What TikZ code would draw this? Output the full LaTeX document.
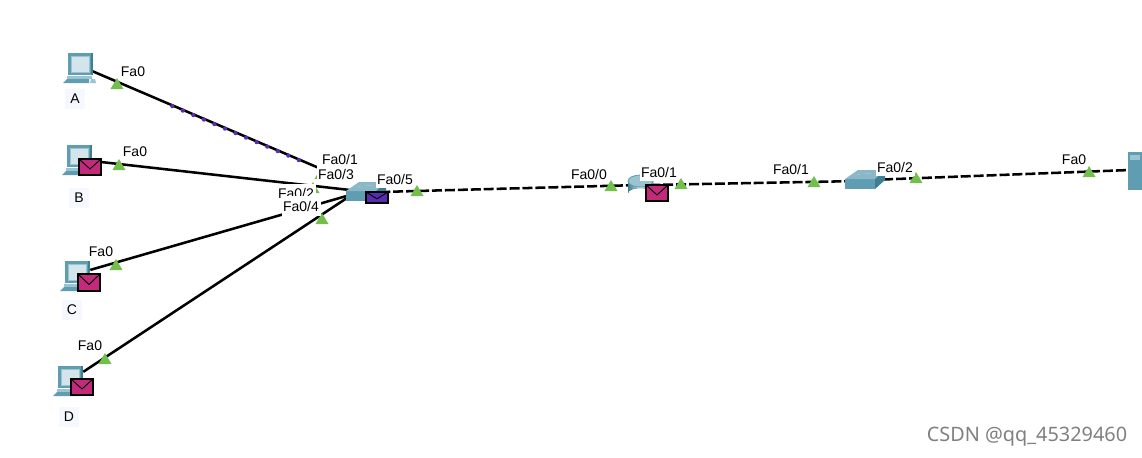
\documentclass[tikz,border=0pt]{standalone}
\usepackage{fontspec}
\setmainfont{Liberation Sans}
\newfontfamily\wmfont{Noto Sans}
\definecolor{teal1}{HTML}{5F9DB3}
\definecolor{teal2}{HTML}{3F7F96}
\definecolor{teal3}{HTML}{9CC3D0}
\definecolor{screen}{HTML}{D3E4EA}
\definecolor{mailm}{HTML}{C42A7C}
\definecolor{mailp}{HTML}{5A2DB0}
\definecolor{tri}{HTML}{72BF4B}
\definecolor{lblbg}{HTML}{F5F8FE}
\tikzset{
  x=0.75pt,y=-0.75pt,
  link/.style={draw=black,line width=1.9pt},
  dashlink/.style={draw=black,line width=1.9pt,dash pattern=on 7.5pt off 2.2pt},
  port/.style={font=\fontsize{10.5pt}{12pt}\selectfont,fill=white,inner xsep=1.2pt,inner ysep=0pt,minimum height=13pt,text=black},
  devlabel/.style={font=\fontsize{10.5pt}{12pt}\selectfont,fill=lblbg,inner xsep=4pt,inner ysep=4pt,text=black},
  anchorpt/.style={inner sep=0pt,minimum size=0pt},
  watermark/.style={font=\wmfont\fontsize{14.9pt}{16pt}\selectfont,text=black!50},
  pcicon/.pic={
    \fill[teal1] (-11,-14) rectangle (14,8);
    \fill[teal2] (12,-14) -- (14,-14) -- (14,8) -- (12,8) -- cycle;
    \fill[screen,draw=teal3,line width=.5pt] (-8,-11) rectangle (10,5);
    \fill[teal3] (-12,9) -- (13,9) -- (13,12) -- (-12,12) -- cycle;
    \fill[teal1] (-16,16) -- (-12,12) -- (10,12) -- (10,16) -- cycle;
    \fill[teal3] (12,12) -- (16,12) -- (17,16) -- (11,16) -- cycle;
  },
  swicon/.pic={
    \fill[teal1] (0,0) rectangle (30,10);
    \fill[teal3!70!teal1] (0,0) -- (13,-9) -- (40,-9) -- (30,0) -- cycle;
    \fill[teal2] (30,0) -- (40,-9) -- (40,1) -- (30,10) -- cycle;
    \fill[teal3] (12,-5) rectangle (15,-4);
    \fill[teal3] (20,-6) rectangle (26,-5);
  }
}
\newcommand{\mailicon}[4]{% x y col width-height
  \fill[#3,draw=black,line width=.9pt] (#1,#2) rectangle ++(22,#4);
  \draw[black,line width=.7pt] (#1,#2) -- ++(11,{#4*0.62}) -- ++(11,{-#4*0.62});
}
\newcommand{\portmark}[2]{\fill[tri] (#1-6.5,#2+5) -- (#1,#2-6) -- (#1+6.5,#2+5) -- cycle;}
\begin{document}
\begin{tikzpicture}
\useasboundingbox (0,0) rectangle (1142,457);
\fill[white] (0,0) rectangle (1142,457);
% connector ends
\node[anchorpt] (pa) at (92,71) {};
\node[anchorpt] (pb) at (101,162) {};
\node[anchorpt] (pc) at (90,270) {};
\node[anchorpt] (pd) at (83,372) {};
\node[anchorpt] (swa) at (347,180) {};
\node[anchorpt] (swb2) at (350,190) {};
\node[anchorpt] (swc2) at (350,195) {};
\node[anchorpt] (swd) at (350,196) {};
\node[anchorpt] (swr) at (380,192) {};
\node[anchorpt] (ra) at (640,185) {};
\node[anchorpt] (rb) at (650,185) {};
\node[anchorpt] (swb) at (860,181) {};
\node[anchorpt] (swc) at (870,180) {};
\node[anchorpt] (srv) at (1130,170) {};
\node[anchorpt] (dota) at (172,106) {};
\node[anchorpt] (dotb) at (308,164) {};
% connectors
\draw[link] (pa) -- (swa);
\draw[link] (pb) -- (swb2);
\draw[link] (pc) -- (swc2);
\draw[link] (pd) -- (swd);
\draw[dashlink] (swr) -- (ra);
\draw[dashlink] (rb) -- (swb);
\draw[dashlink] (swc) -- (srv);
\draw[draw=mailp,line width=3.2pt,line cap=round,dash pattern=on 0pt off 8.6pt] (dota) -- (dotb);
% port markers
\portmark{117}{84}\portmark{119}{165}\portmark{116}{265}\portmark{105}{359}
\portmark{322}{219}\portmark{321}{174}\portmark{313}{188}
\portmark{417}{191}\portmark{611}{186}\portmark{681}{184}
\portmark{814}{182}\portmark{916}{178}\portmark{1089}{172}
% devices
\pic at (79,67) {pcicon};
\pic at (78,159) {pcicon};
\pic at (76,275) {pcicon};
\pic at (69,380) {pcicon};
\pic at (346,191) {swicon};
\pic at (845,179) {swicon};
% router
\fill[left color=teal2,right color=teal2,middle color=screen] (628,181) -- (653,181) -- (653,193) arc (0:-180:12.5 and 5) -- cycle;
\fill[teal3,draw=teal1,line width=.6pt] (640.5,181) ellipse (12.5 and 6);
% server
\fill[teal1] (1128,152) rectangle (1142,190);
\fill[teal3] (1130,155) rectangle (1140,160);
% envelopes
\mailicon{79}{159}{mailm}{16}
\mailicon{78}{274}{mailm}{17}
\mailicon{71}{379}{mailm}{16}
\mailicon{366}{192}{mailp}{11}
\mailicon{646}{185}{mailm}{16}
% port labels
\node[port] (l1) at (133,72) {Fa0};
\node[port] (l2) at (135,152) {Fa0};
\node[port] (l3) at (101,252) {Fa0};
\node[port] (l4) at (90,346) {Fa0};
\node[port] (l5) at (340,159) {Fa0/1};
\node[port] (l6) at (336,174) {Fa0/3};
\node[port] (l7) at (296,193) {Fa0/2};
\node[port,minimum height=15pt] (l8) at (301,206) {Fa0/4};
\node[port] (l9) at (395,179) {Fa0/5};
\node[port] (l10) at (589,174) {Fa0/0};
\node[port] (l11) at (659,172) {Fa0/1};
\node[port] (l12) at (791,169) {Fa0/1};
\node[port] (l13) at (895,167) {Fa0/2};
\node[port] (l14) at (1074,160) {Fa0};
% device labels
\node[devlabel] (na) at (75,99) {A};
\node[devlabel] (nb) at (79,198) {B};
\node[devlabel] (nc) at (72,310) {C};
\node[devlabel] (nd) at (69,417) {D};
\node[watermark] (wm) at (1027,437) {CSDN @qq\_45329460};
\end{tikzpicture}
\end{document}
